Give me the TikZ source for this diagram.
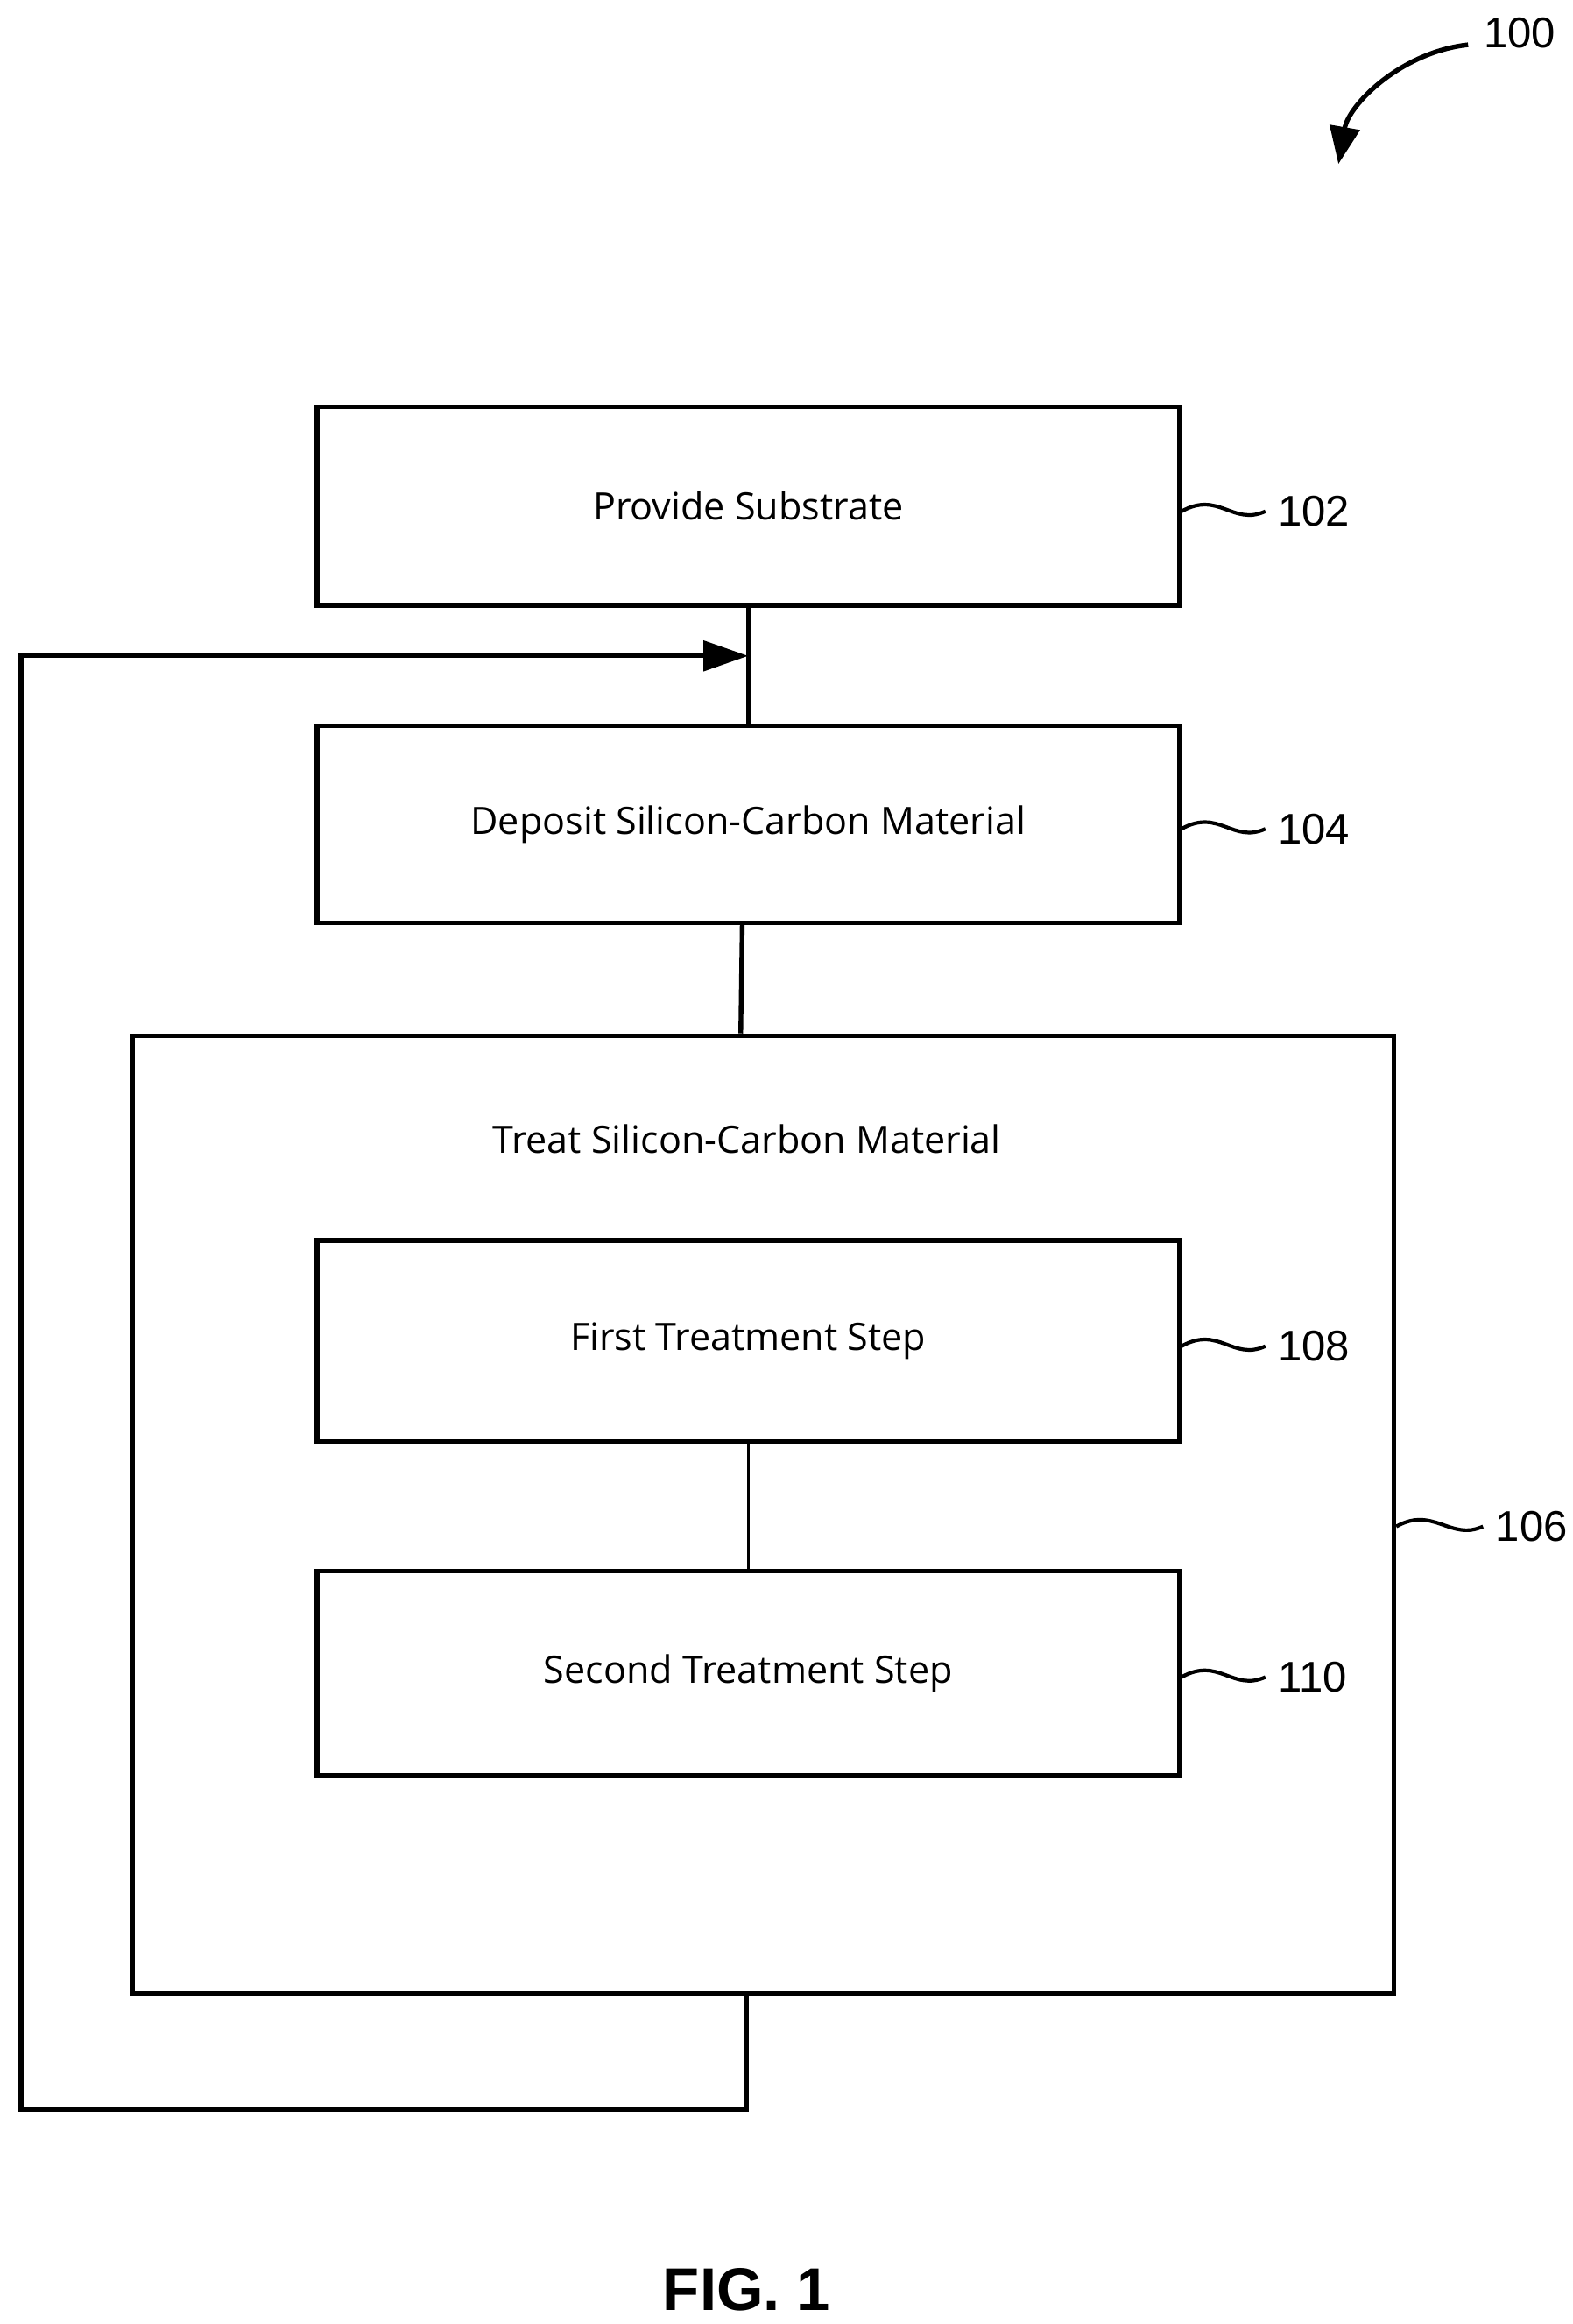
\documentclass[tikz,border=0pt]{standalone}
\usepackage{fontspec}
\setmainfont{Open Sans}
\newfontfamily\numfont{Liberation Sans}
\usetikzlibrary{arrows.meta,positioning}

\begin{document}
\begin{tikzpicture}[x=0.01cm,y=-0.01cm,line width=0.9pt]
    \tikzstyle{flow step}=[draw,rectangle,minimum width=5.78cm,inner sep=0pt,font=\fontsize{7.2}{9}\selectfont]
    \tikzstyle{refnum}=[font=\numfont\fontsize{8.2}{10}\selectfont,anchor=west,inner sep=0pt]
    \tikzstyle{squig}=[line width=0.7pt]
    \useasboundingbox (0,0) rectangle (1055,1559);

    % Steps
    \node[flow step,minimum height=1.33cm] (S102) at (502,339.5) {Provide Substrate};
    \node[flow step,minimum height=1.32cm] (S104) at (502,553) {Deposit Silicon-Carbon Material};
    \node[draw,rectangle,minimum width=8.46cm,minimum height=6.42cm,inner sep=0pt] (S106) at (512,1016) {};
    \node[font=\fontsize{7.2}{9}\selectfont] (T106) at (501,764) {Treat Silicon-Carbon Material};
    \node[flow step,minimum height=1.35cm] (S108) at (502,899.5) {First Treatment Step};
    \node[flow step,minimum height=1.37cm] (S110) at (502,1122.5) {Second Treatment Step};

    % Reference numerals
    \node[refnum] (L102) at (856,343) {102};
    \node[refnum] (L104) at (856,556) {104};
    \node[refnum] (L108) at (856,903) {108};
    \node[refnum] (L110) at (856,1125) {110};
    \node[refnum] (L106) at (1002,1024) {106};
    \node[refnum] (L100) at (994,22) {100};

    \foreach \n in {102,104,108,110}
        \draw[squig] (S\n.east |- L\n) .. controls +(25,-14) and +(-22,10) .. ([xshift=-0.07cm]L\n.west);
    \draw[squig] (S106.east |- L106) .. controls +(25,-14) and +(-22,10) .. ([xshift=-0.07cm]L106.west);

    % Flow
    \draw (S102.south) -- (S104.north);
    \draw ([xshift=-0.04cm]S104.south) -- ([xshift=-0.15cm]S106.north);
    \draw[line width=0.5pt] (S108.south) -- (S110.south |- S110.north);
    \coordinate (M) at (S102.south |- 0,440);
    \coordinate (B) at (501,1415);
    \draw[-{Triangle[length=0.3cm,width=0.2cm]}] (S106.south -| B) -- (B) -- (14,1415) -- (14,440) -- (M);

    % Figure mark
    \coordinate (A0) at (985,30);
    \coordinate (A1) at (898,110);
    \draw[-{Triangle[length=0.25cm,width=0.2cm]}] (A0) .. controls (940,35) and (905,70) .. (A1);

    \node[font=\numfont\bfseries\fontsize{11.5}{13}\selectfont] (fig) at (501,1536) {FIG. 1};
\end{tikzpicture}
\end{document}
